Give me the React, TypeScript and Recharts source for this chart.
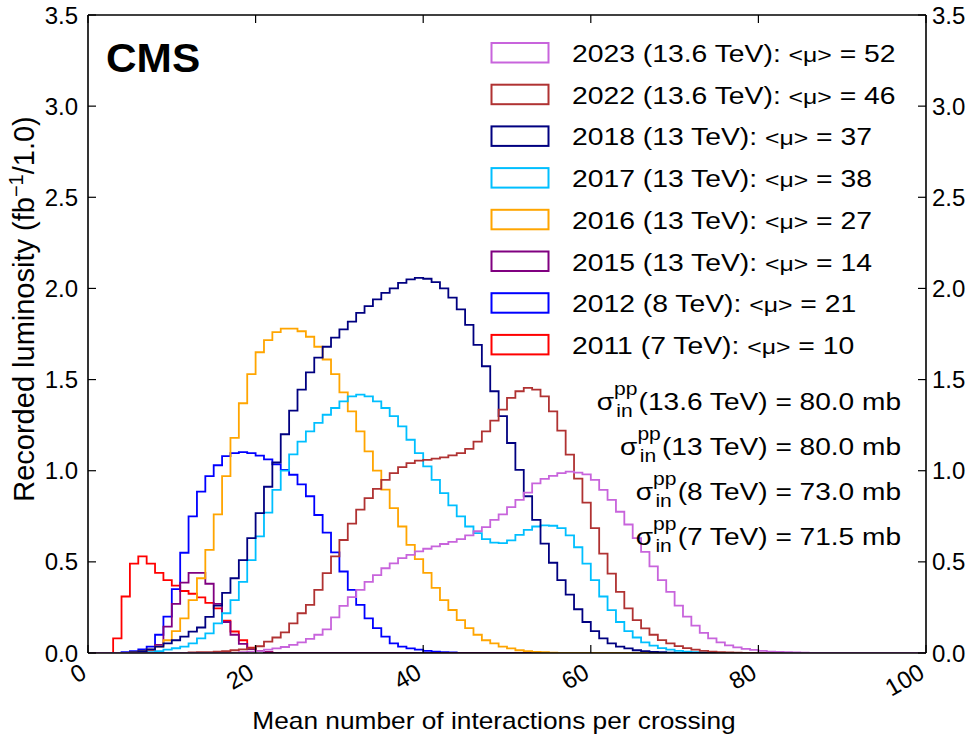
import React from 'react';
import { LineChart, Line, XAxis, YAxis } from 'recharts';

const FONT = '"Liberation Sans", Arial, Helvetica, sans-serif';

const X_TICKS = [0, 20, 40, 60, 80, 100];
const Y_TICKS = [0, 0.5, 1, 1.5, 2, 2.5, 3, 3.5];
const N_BINS = 100;

// recorded luminosity per bin of width 1 (fb^-1); each list starts at bin *_FROM
const LUMI_2011_FROM = 3;
const LUMI_2011 = [0.08, 0.31, 0.49, 0.53, 0.49, 0.44, 0.4, 0.37, 0.34, 0.325, 0.305, 0.275, 0.245, 0.178, 0.118, 0.07, 0.03, 0.01, 0.004];

const LUMI_2012_FROM = 4;
const LUMI_2012 = [0.005, 0.01, 0.02, 0.035, 0.1, 0.2, 0.35, 0.55, 0.75, 0.885, 0.97, 1.03, 1.08, 1.097, 1.102, 1.097, 1.083, 1.062, 1.035, 1.005, 0.978, 0.925, 0.86, 0.757, 0.66, 0.552, 0.447, 0.346, 0.264, 0.19, 0.136, 0.09, 0.053, 0.035, 0.025, 0.018, 0.012, 0.008, 0.005, 0.003];

const LUMI_2015_FROM = 6;
const LUMI_2015 = [0.005, 0.015, 0.045, 0.145, 0.27, 0.386, 0.44, 0.44, 0.38, 0.27, 0.17, 0.1, 0.05, 0.022, 0.01, 0.004];

const LUMI_2016_FROM = 5;
const LUMI_2016 = [0.005, 0.01, 0.018, 0.035, 0.07, 0.12, 0.19, 0.29, 0.41, 0.566, 0.76, 0.97, 1.18, 1.37, 1.53, 1.65, 1.716, 1.76, 1.78, 1.78, 1.765, 1.735, 1.68, 1.61, 1.53, 1.43, 1.326, 1.216, 1.106, 1.0, 0.896, 0.795, 0.694, 0.593, 0.515, 0.44, 0.357, 0.29, 0.236, 0.18, 0.136, 0.1, 0.07, 0.053, 0.035, 0.025, 0.015, 0.01, 0.006, 0.004, 0.002];

const LUMI_2017_FROM = 7;
const LUMI_2017 = [0.005, 0.01, 0.018, 0.026, 0.035, 0.053, 0.08, 0.108, 0.163, 0.218, 0.29, 0.39, 0.51, 0.64, 0.77, 0.895, 1.0, 1.09, 1.16, 1.216, 1.262, 1.307, 1.344, 1.38, 1.408, 1.417, 1.408, 1.38, 1.344, 1.3, 1.243, 1.17, 1.097, 1.024, 0.95, 0.877, 0.81, 0.75, 0.694, 0.658, 0.625, 0.606, 0.603, 0.618, 0.648, 0.676, 0.694, 0.7, 0.698, 0.685, 0.645, 0.58, 0.49, 0.4, 0.31, 0.235, 0.17, 0.12, 0.085, 0.058, 0.04, 0.027, 0.018, 0.012, 0.008, 0.005, 0.003];

const LUMI_2018_FROM = 5;
const LUMI_2018 = [0.005, 0.01, 0.02, 0.035, 0.053, 0.07, 0.09, 0.117, 0.14, 0.198, 0.26, 0.33, 0.41, 0.51, 0.63, 0.767, 0.912, 1.045, 1.2, 1.33, 1.445, 1.54, 1.62, 1.68, 1.73, 1.775, 1.818, 1.866, 1.903, 1.94, 1.976, 2.0, 2.03, 2.05, 2.058, 2.053, 2.035, 2.0, 1.95, 1.885, 1.8, 1.69, 1.573, 1.436, 1.3, 1.152, 1.005, 0.86, 0.73, 0.6, 0.495, 0.4, 0.32, 0.24, 0.17, 0.12, 0.08, 0.053, 0.035, 0.025, 0.015, 0.01, 0.006, 0.004, 0.002];

const LUMI_2022_FROM = 12;
const LUMI_2022 = [0.003, 0.004, 0.005, 0.008, 0.01, 0.015, 0.02, 0.026, 0.037, 0.062, 0.085, 0.113, 0.163, 0.218, 0.264, 0.346, 0.438, 0.53, 0.62, 0.71, 0.786, 0.85, 0.9, 0.95, 0.987, 1.02, 1.042, 1.055, 1.06, 1.066, 1.073, 1.084, 1.097, 1.12, 1.16, 1.216, 1.275, 1.335, 1.4, 1.436, 1.454, 1.445, 1.408, 1.326, 1.22, 1.088, 0.957, 0.825, 0.685, 0.545, 0.435, 0.335, 0.245, 0.18, 0.135, 0.1, 0.071, 0.053, 0.038, 0.027, 0.018, 0.012, 0.008, 0.005, 0.003, 0.002];

const LUMI_2023_FROM = 18;
const LUMI_2023 = [0.005, 0.008, 0.01, 0.018, 0.025, 0.033, 0.045, 0.058, 0.077, 0.1, 0.13, 0.195, 0.258, 0.306, 0.346, 0.39, 0.427, 0.465, 0.492, 0.52, 0.538, 0.557, 0.572, 0.585, 0.598, 0.61, 0.625, 0.645, 0.668, 0.69, 0.73, 0.76, 0.8, 0.84, 0.88, 0.93, 0.955, 0.972, 0.987, 0.995, 0.99, 0.98, 0.95, 0.895, 0.84, 0.775, 0.705, 0.63, 0.555, 0.475, 0.4, 0.335, 0.26, 0.2, 0.15, 0.11, 0.08, 0.058, 0.042, 0.031, 0.023, 0.017, 0.012, 0.008, 0.006, 0.004, 0.003, 0.002];

type Series = { key: string; label: string; mu: string; color: string; from: number; values: number[] };

// legend order (top to bottom)
const SERIES: Series[] = [
  { key: 'y2023', label: '2023 (13.6 TeV): ', mu: '52', color: '#C864DC', from: LUMI_2023_FROM, values: LUMI_2023 },
  { key: 'y2022', label: '2022 (13.6 TeV): ', mu: '46', color: '#B03232', from: LUMI_2022_FROM, values: LUMI_2022 },
  { key: 'y2018', label: '2018 (13 TeV): ', mu: '37', color: '#000080', from: LUMI_2018_FROM, values: LUMI_2018 },
  { key: 'y2017', label: '2017 (13 TeV): ', mu: '38', color: '#00BFFF', from: LUMI_2017_FROM, values: LUMI_2017 },
  { key: 'y2016', label: '2016 (13 TeV): ', mu: '27', color: '#FFA500', from: LUMI_2016_FROM, values: LUMI_2016 },
  { key: 'y2015', label: '2015 (13 TeV): ', mu: '14', color: '#800080', from: LUMI_2015_FROM, values: LUMI_2015 },
  { key: 'y2012', label: '2012 (8 TeV): ', mu: '21', color: '#0000FF', from: LUMI_2012_FROM, values: LUMI_2012 },
  { key: 'y2011', label: '2011 (7 TeV): ', mu: '10', color: '#FF0000', from: LUMI_2011_FROM, values: LUMI_2011 },
];

const XSEC_ENERGIES = ['13.6 TeV', '13 TeV', '8 TeV', '7 TeV'];
const XSEC_VALUES = ['80.0', '80.0', '73.0', '71.5'];

const data = Array.from({ length: N_BINS + 1 }, (_, x) => {
  const row: Record<string, number> = { x };
  const bin = Math.min(x, N_BINS - 1);
  SERIES.forEach((s) => {
    row[s.key] = s.values[bin - s.from] ?? 0;
  });
  return row;
});

const XTick = (props: any) => {
  const { x, y, payload } = props;
  return (
    <text x={x} y={y} textAnchor="end" transform={`rotate(-30 ${x} ${y})`} fontSize={24} fontFamily={FONT} fill="#000">
      {payload.value}
    </text>
  );
};

const NoTick = () => <g />;

const axisLine = { stroke: '#000', strokeWidth: 1.6 };
const tickLine = { stroke: '#000', strokeWidth: 1.2 };
const yTickStyle = { fontSize: 24, fill: '#000', fontFamily: FONT };

export default function App() {
  return (
    <div style={{ position: 'absolute', left: 0, top: 0, width: 972, height: 740, background: '#fff' }}>
      <LineChart width={972} height={740} data={data} margin={{ top: 10, right: 0, left: 28, bottom: 37 }}>
        <XAxis xAxisId="b" dataKey="x" type="number" domain={[0, 100]} ticks={X_TICKS} interval={0} height={50}
          tickSize={-8} tickMargin={32} tick={<XTick />} axisLine={axisLine} tickLine={tickLine} allowDataOverflow />
        <XAxis xAxisId="t" orientation="top" dataKey="x" type="number" domain={[0, 100]} ticks={X_TICKS} interval={0} height={5}
          tickSize={-8} tick={<NoTick />} axisLine={axisLine} tickLine={tickLine} allowDataOverflow />
        <YAxis yAxisId="l" type="number" domain={[0, 3.5]} ticks={Y_TICKS} interval={0} width={60}
          tickSize={-8} tickMargin={18} tick={yTickStyle} tickFormatter={(v: number) => v.toFixed(1)}
          axisLine={axisLine} tickLine={tickLine} allowDataOverflow />
        <YAxis yAxisId="r" orientation="right" type="number" domain={[0, 3.5]} ticks={Y_TICKS} interval={0} width={46}
          tickSize={-8} tickMargin={14} tick={yTickStyle} tickFormatter={(v: number) => v.toFixed(1)}
          axisLine={axisLine} tickLine={tickLine} allowDataOverflow />
        {[...SERIES].reverse().map((s) => (
          <Line key={s.key} xAxisId="b" yAxisId="l" type="stepAfter" dataKey={s.key} stroke={s.color}
            strokeWidth={1.8} dot={false} activeDot={false} isAnimationActive={false} />
        ))}
      </LineChart>
      <svg width={972} height={740} style={{ position: 'absolute', left: 0, top: 0, pointerEvents: 'none' }} fontFamily={FONT}>
        <g transform="translate(106 72) scale(1.06 1)">
          <text x={0} y={0} fontSize={40} fontWeight="bold" fill="#000">CMS</text>
        </g>
        {SERIES.map((s, i) => {
          const y = 62 + i * 41.7;
          return (
            <g key={s.key}>
              <rect x={491.5} y={y - 19} width={57} height={19.5} fill="none" stroke={s.color} strokeWidth={2} />
              <g transform={`translate(572 ${y}) scale(1.18 1)`}>
                <text x={0} y={0} fontSize={24} fill="#000">
                  {s.label}
                  <tspan fontSize={21}>{'<μ>'}</tspan>
                  <tspan fontSize={24}>{` = ${s.mu}`}</tspan>
                </text>
              </g>
            </g>
          );
        })}
        {XSEC_ENERGIES.map((e, i) => (
          <g key={e} transform={`translate(901 ${410 + i * 45}) scale(1.17 1)`}>
            <text x={0} y={0} fontSize={24} fill="#000" textAnchor="end">
              σ
              <tspan fontSize={18} dy={-15}>pp</tspan>
              <tspan fontSize={18} dx={-18} dy={22}>in</tspan>
              <tspan fontSize={24} dx={5} dy={-7}>{`(${e}) = ${XSEC_VALUES[i]} mb`}</tspan>
            </text>
          </g>
        ))}
        <g transform="translate(494 729) scale(1.095 1)">
          <text x={0} y={0} fontSize={24} fill="#000" textAnchor="middle">Mean number of interactions per crossing</text>
        </g>
        <text transform="translate(33.5 309) rotate(-90)" fontSize={29} fill="#000" textAnchor="middle">
          Recorded luminosity (fb
          <tspan fontSize={20} dy={-11}>−1</tspan>
          <tspan fontSize={29} dy={11}>/1.0)</tspan>
        </text>
      </svg>
    </div>
  );
}
